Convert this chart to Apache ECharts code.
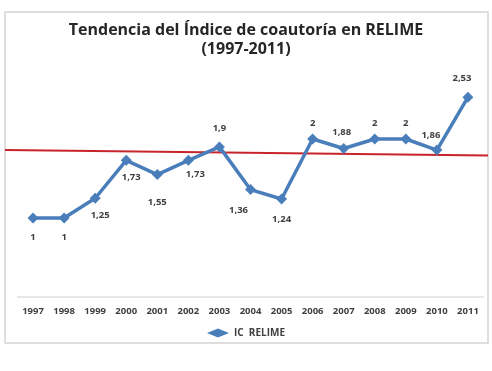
<!DOCTYPE html>
<html>
<head>
<meta charset="utf-8">
<script src="https://cdn.jsdelivr.net/npm/echarts@6/dist/echarts.min.js"></script>
<style>
  html, body { margin: 0; padding: 0; background: #fff; }
  #chart { width: 492px; height: 371px; }
</style>
</head>
<body>
<div id="chart"></div>
<script>
const years = ["1997", "1998", "1999", "2000", "2001", "2002", "2003", "2004",
  "2005", "2006", "2007", "2008", "2009", "2010", "2011"];
const icRelime = [1, 1, 1.25, 1.73, 1.55, 1.73, 1.9, 1.36, 1.24, 2, 1.88, 2, 2, 1.86, 2.53];
// hand-drawn red reference line: value at left edge, value at right edge
const trendEnds = [1.86, 1.79];

// label offsets (px) per point, as placed in the original
const labelOffsets = [
  [0, 19], [0, 19], [5, 17], [5, 17], [0, 28], [7, 14], [0, -19], [-12, 21],
  [0, 20], [0, -16], [-2, -16], [0, -16], [0, -16], [-6, -15], [-6, -19],
];

const blue = "#4a7ebb";
const textDark = "#404040";
const fmt = (v) => String(v).replace(".", ",");

const chart = echarts.init(document.getElementById("chart"), null, { renderer: "canvas" });

chart.setOption({
  animation: false,
  graphic: [{
    type: "rect",
    shape: { x: 5, y: 12, width: 483, height: 331 },
    style: { fill: "#fff", stroke: "#d4d4d4", lineWidth: 1.5 },
    z: -10,
  }],
  title: {
    text: "Tendencia del Índice de coautoría en RELIME\n(1997-2011)",
    left: "center",
    top: 16,
    textStyle: {
      fontFamily: "Open Sans", fontWeight: "bold", fontSize: 16,
      color: "#262626", lineHeight: 19,
    },
  },
  legend: {
    top: 323,
    left: "center",
    itemWidth: 22,
    itemHeight: 9,
    itemGap: 4,
    textStyle: { fontFamily: "Open Sans", fontWeight: "bold", fontSize: 10, color: textDark },
    data: [{ name: "IC  RELIME", icon: "diamond" }],
  },
  grid: [
    { left: 17.5, right: 8.5, top: 60, bottom: 74 },
    { left: 5, right: 4, top: 60, bottom: 74 },
  ],
  xAxis: [
    {
      type: "category",
      data: years,
      gridIndex: 0,
      boundaryGap: true,
      axisLine: { lineStyle: { color: "#e0e0e0", width: 1.5 } },
      axisTick: { show: false },
      axisLabel: {
        fontFamily: "Open Sans", fontWeight: "bold", fontSize: 9.5,
        color: textDark, margin: 9, interval: 0,
      },
    },
    { type: "value", gridIndex: 1, min: 0, max: 1, show: false },
  ],
  yAxis: [
    { type: "value", gridIndex: 0, min: 0, max: 3, show: false },
    { type: "value", gridIndex: 1, min: 0, max: 3, show: false },
  ],
  series: [
    {
      name: "trend",
      type: "line",
      xAxisIndex: 1,
      yAxisIndex: 1,
      data: trendEnds.map((v, i) => [i, v]),
      showSymbol: false,
      lineStyle: { color: "#c8242b", width: 2 },
      z: 1,
    },
    {
      name: "IC  RELIME",
      type: "line",
      data: icRelime.map((v, i) => ({
        value: v,
        label: { offset: labelOffsets[i] },
      })),
      symbol: "diamond",
      symbolSize: 11,
      itemStyle: { color: blue },
      lineStyle: { color: blue, width: 3.5 },
      label: {
        show: true,
        position: "inside",
        formatter: (p) => fmt(p.value),
        fontFamily: "Open Sans", fontWeight: "bold", fontSize: 9.5,
        color: textDark,
      },
      z: 3,
    },
  ],
});
</script>
</body>
</html>
